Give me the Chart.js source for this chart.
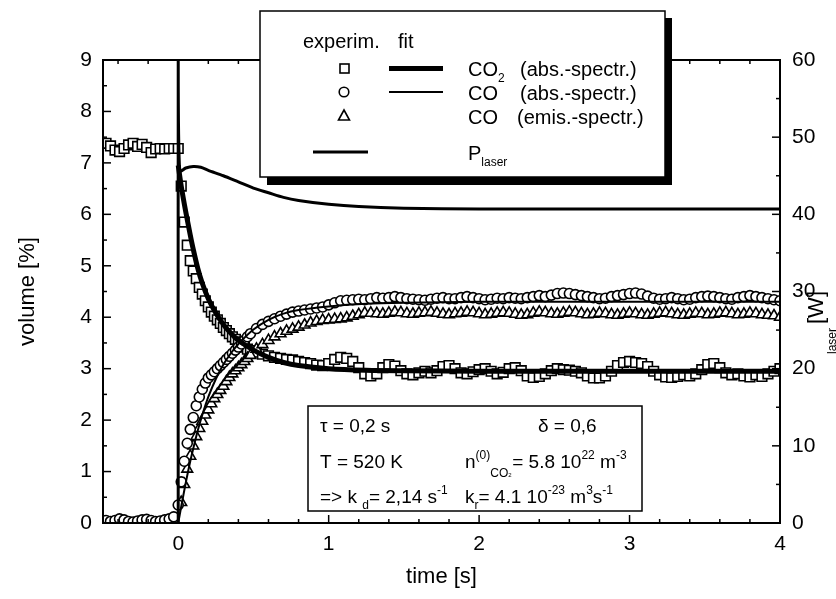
<!DOCTYPE html>
<html>
<head>
<meta charset="utf-8">
<script src="https://cdn.jsdelivr.net/npm/chart.js@4/dist/chart.umd.min.js"></script>
<style>
  html, body { margin: 0; padding: 0; background: #fff; }
</style>
</head>
<body>
<canvas id="volChart" width="836" height="599"></canvas>
<script>
// measurement times [s] shared by the three experimental series
const expTime = [
  -0.48, -0.45, -0.42, -0.39, -0.36, -0.33, -0.30, -0.27, -0.24, -0.21, -0.18, -0.15, -0.12, -0.09, -0.06, -0.03,
  0.00, 0.02, 0.04, 0.06, 0.08, 0.10, 0.12, 0.14, 0.16, 0.18, 0.20, 0.22, 0.24, 0.26, 0.28, 0.30, 0.32, 0.34, 0.36, 0.38, 0.40, 0.42, 0.44, 0.46, 0.48,
  0.52, 0.56, 0.60, 0.64, 0.68, 0.72, 0.76, 0.80, 0.84, 0.88, 0.92, 0.96,
  1.00, 1.04, 1.08, 1.12, 1.16, 1.20, 1.24, 1.28, 1.32, 1.36, 1.40, 1.44, 1.48, 1.52, 1.56, 1.60, 1.64, 1.68, 1.72, 1.76, 1.80, 1.84, 1.88, 1.92, 1.96,
  2.00, 2.04, 2.08, 2.12, 2.16, 2.20, 2.24, 2.28, 2.32, 2.36, 2.40, 2.44, 2.48, 2.52, 2.56, 2.60, 2.64, 2.68, 2.72, 2.76, 2.80, 2.84, 2.88, 2.92, 2.96,
  3.00, 3.04, 3.08, 3.12, 3.16, 3.20, 3.24, 3.28, 3.32, 3.36, 3.40, 3.44, 3.48, 3.52, 3.56, 3.60, 3.64, 3.68, 3.72, 3.76, 3.80, 3.84, 3.88, 3.92, 3.96,
  4.00
];

// CO2, absorption spectroscopy (squares) [%]
const co2Exp = [
  7.38, 7.33, 7.25, 7.22, 7.28, 7.35, 7.38, 7.32, 7.36, 7.30, 7.20, 7.27, 7.28, 7.27, 7.28, 7.28,
  7.28, 6.55, 5.85, 5.40, 5.10, 4.90, 4.75, 4.58, 4.45, 4.32, 4.20, 4.10, 4.02, 3.95, 3.88, 3.80, 3.74, 3.68, 3.62, 3.57, 3.52, 3.47, 3.42, 3.38, 3.35,
  3.32, 3.28, 3.25, 3.22, 3.20, 3.18, 3.17, 3.14, 3.12, 3.10, 3.07, 3.06,
  3.10, 3.18, 3.22, 3.20, 3.14, 3.02, 2.90, 2.86, 2.90, 3.02, 3.08, 3.05, 2.96, 2.90, 2.88, 2.92, 2.95, 2.92, 2.96, 3.04, 3.06, 3.00, 2.92, 2.90, 2.94,
  2.98, 3.00, 2.95, 2.90, 2.93, 3.00, 3.02, 2.96, 2.86, 2.83, 2.85, 2.90, 2.96, 3.00, 2.98, 2.97, 2.95, 2.92, 2.86, 2.82, 2.82, 2.86, 2.95, 3.06, 3.12,
  3.14, 3.12, 3.10, 3.04, 2.95, 2.88, 2.84, 2.83, 2.85, 2.88, 2.86, 2.90, 2.98, 3.08, 3.10, 3.02, 2.92, 2.88, 2.90, 2.86, 2.84, 2.88, 2.85, 2.90, 2.95,
  3.00
];

// CO, absorption spectroscopy (circles) [%]
const coAbsExp = [
  0.05, 0.03, 0.05, 0.08, 0.06, 0.03, 0.02, 0.04, 0.06, 0.07, 0.05, 0.03, 0.04, 0.06, 0.08, 0.12,
  0.35, 0.80, 1.20, 1.55, 1.82, 2.05, 2.28, 2.45, 2.60, 2.72, 2.82, 2.88, 2.94, 3.00, 3.06, 3.12, 3.18, 3.24, 3.30, 3.36, 3.42, 3.48, 3.55, 3.62, 3.68,
  3.78, 3.86, 3.92, 3.97, 4.02, 4.06, 4.10, 4.12, 4.14, 4.16, 4.18, 4.20,
  4.24, 4.28, 4.32, 4.33, 4.34, 4.35, 4.34, 4.36, 4.38, 4.37, 4.38, 4.40, 4.38, 4.36, 4.35, 4.34, 4.33, 4.35, 4.37, 4.38, 4.36, 4.36, 4.38, 4.40, 4.38,
  4.36, 4.34, 4.35, 4.37, 4.36, 4.38, 4.37, 4.36, 4.38, 4.40, 4.42, 4.40, 4.43, 4.46, 4.47, 4.46, 4.44, 4.42, 4.40, 4.38, 4.36, 4.37, 4.40, 4.42, 4.44,
  4.46, 4.47, 4.45, 4.41, 4.37, 4.35, 4.36, 4.38, 4.36, 4.34, 4.35, 4.38, 4.40, 4.41, 4.40, 4.38, 4.36, 4.35, 4.38, 4.40, 4.42, 4.40, 4.38, 4.36, 4.34,
  4.32
];

// CO, emission spectroscopy (triangles) [%]
const coEmisExp = [
  null, null, null, null, null, null, null, null, null, null, null, null, null, null, null, null,
  null, 0.40, 0.75, 1.05, 1.30, 1.50, 1.68, 1.84, 1.98, 2.10, 2.20, 2.32, 2.42, 2.50, 2.58, 2.66, 2.75, 2.83, 2.90, 2.96, 3.02, 3.08, 3.14, 3.20, 3.26,
  3.38, 3.47, 3.55, 3.62, 3.68, 3.73, 3.77, 3.81, 3.85, 3.89, 3.92, 3.94,
  3.95, 3.96, 3.97, 3.99, 4.02, 4.05, 4.08, 4.08, 4.07, 4.06, 4.08, 4.10, 4.09, 4.07, 4.06, 4.08, 4.09, 4.10, 4.08, 4.06, 4.05, 4.07, 4.08, 4.10, 4.09,
  4.07, 4.05, 4.06, 4.08, 4.09, 4.08, 4.06, 4.04, 4.05, 4.08, 4.10, 4.09, 4.07, 4.06, 4.08, 4.10, 4.09, 4.07, 4.05, 4.06, 4.08, 4.07, 4.05, 4.04, 4.06,
  4.08, 4.07, 4.05, 4.04, 4.06, 4.08, 4.09, 4.07, 4.05, 4.04, 4.06, 4.08, 4.07, 4.05, 4.06, 4.08, 4.09, 4.07, 4.05, 4.06, 4.08, 4.07, 4.05, 4.04, 4.03,
  4.00
];

// model fits [%]
const fitTime = [0, 0.02, 0.05, 0.08, 0.10, 0.13, 0.16, 0.20, 0.25, 0.30, 0.35, 0.40, 0.50, 0.60, 0.70, 0.80, 1.00, 1.25, 1.50, 2.00, 2.50, 3.00, 3.50, 4.00];
const co2Fit  = [6.95, 6.55, 6.05, 5.60, 5.32, 4.95, 4.66, 4.36, 4.08, 3.86, 3.69, 3.55, 3.36, 3.22, 3.12, 3.06, 3.00, 2.97, 2.96, 2.95, 2.95, 2.95, 2.95, 2.95];
const coFit   = [0.00, 0.32, 0.78, 1.20, 1.45, 1.80, 2.10, 2.45, 2.80, 3.08, 3.30, 3.48, 3.76, 3.95, 4.07, 4.14, 4.21, 4.26, 4.28, 4.30, 4.30, 4.30, 4.30, 4.30];

// laser power [W] (right axis)
const laserTime  = [0, 0, 0.01, 0.05, 0.10, 0.15, 0.20, 0.30, 0.40, 0.50, 0.60, 0.70, 0.80, 1.00, 1.20, 1.50, 2.00, 3.00, 4.00];
const laserPower = [0, 60, 45.6, 46.0, 46.2, 46.1, 45.7, 45.0, 44.2, 43.4, 42.8, 42.2, 41.8, 41.3, 41.0, 40.8, 40.7, 40.7, 40.7];

const xTicks = [0, 1, 2, 3, 4];
const yTicks = [0, 1, 2, 3, 4, 5, 6, 7, 8, 9];
const y2Ticks = [0, 10, 20, 30, 40, 50, 60];

const FONT = '"Liberation Sans", Arial, Helvetica, sans-serif';

const pts = (xs, ys) => xs.map((x, i) => ({ x: x, y: ys[i] }));

// write text with sub/superscripts, returns end x
function rich(ctx, x, y, parts, size) {
  for (const [t, k] of parts) {
    const small = k !== 'n';
    ctx.font = (small ? Math.round(size * 0.62) : size) + 'px ' + FONT;
    const dy = k === 'sup' ? -size * 0.45 : k === 'sub' ? size * 0.32 : 0;
    ctx.fillText(t, x, y + dy);
    x += ctx.measureText(t).width;
  }
  return x;
}

const frame = {
  id: 'frame',
  afterDatasetsDraw(chart) {
    const { ctx, chartArea: a, scales } = chart;
    ctx.save();
    ctx.strokeStyle = '#000';
    ctx.lineWidth = 2;
    ctx.strokeRect(a.left, a.top, a.right - a.left, a.bottom - a.top);
    ctx.lineWidth = 1.5;
    const seg = (x1, y1, x2, y2) => {
      ctx.beginPath(); ctx.moveTo(x1, y1); ctx.lineTo(x2, y2); ctx.stroke();
    };
    for (let i = -2; i <= 20; i++) {
      const v = i * 0.2;
      const len = i % 5 === 0 ? 8 : 4;
      const px = scales.x.getPixelForValue(v);
      seg(px, a.bottom, px, a.bottom - len);
      seg(px, a.top, px, a.top + len);
    }
    for (let i = 0; i <= 18; i++) {
      const py = scales.y.getPixelForValue(i * 0.5);
      seg(a.left, py, a.left + (i % 2 === 0 ? 8 : 4), py);
    }
    for (let i = 0; i <= 12; i++) {
      const py = scales.y2.getPixelForValue(i * 5);
      seg(a.right, py, a.right - (i % 2 === 0 ? 8 : 4), py);
    }
    ctx.restore();
  },
  afterDraw(chart) {
    const ctx = chart.ctx;
    ctx.save();
    ctx.fillStyle = '#000';
    ctx.strokeStyle = '#000';
    ctx.textBaseline = 'alphabetic';

    // legend box with drop shadow
    const bx = 260, by = 11, bw = 405, bh = 166;
    ctx.fillRect(bx + 7, by + 7, bw, bh + 1);
    ctx.fillStyle = '#fff';
    ctx.fillRect(bx, by, bw, bh);
    ctx.lineWidth = 1.5;
    ctx.strokeRect(bx, by, bw, bh);
    ctx.fillStyle = '#000';
    ctx.font = '20px ' + FONT;
    ctx.fillText('experim.', 303, 48);
    ctx.fillText('fit', 398, 48);

    ctx.lineWidth = 1.6;
    ctx.strokeRect(340, 64, 9, 9);
    ctx.beginPath(); ctx.arc(344, 92, 4.8, 0, Math.PI * 2); ctx.stroke();
    ctx.beginPath(); ctx.moveTo(344, 110); ctx.lineTo(349.5, 120); ctx.lineTo(338.5, 120); ctx.closePath(); ctx.stroke();
    ctx.lineWidth = 5;
    ctx.beginPath(); ctx.moveTo(389, 68.5); ctx.lineTo(443, 68.5); ctx.stroke();
    ctx.lineWidth = 2;
    ctx.beginPath(); ctx.moveTo(389, 92); ctx.lineTo(443, 92); ctx.stroke();
    ctx.lineWidth = 3;
    ctx.beginPath(); ctx.moveTo(313, 152); ctx.lineTo(368, 152); ctx.stroke();

    rich(ctx, 468, 76, [['CO', 'n'], ['2', 'sub']], 20);
    ctx.font = '20px ' + FONT;
    ctx.fillText('(abs.-spectr.)', 520, 76);
    ctx.fillText('CO', 468, 100);
    ctx.fillText('(abs.-spectr.)', 520, 100);
    ctx.fillText('CO', 468, 124);
    ctx.fillText('(emis.-spectr.)', 517, 124);
    rich(ctx, 468, 160, [['P', 'n'], ['laser', 'sub']], 20);

    // parameter box
    ctx.fillStyle = '#fff';
    ctx.fillRect(308, 406, 334, 105);
    ctx.lineWidth = 1.5;
    ctx.strokeRect(308, 406, 334, 105);
    ctx.fillStyle = '#000';
    const s = 19;
    rich(ctx, 320, 432, [['\u03c4 = 0,2 s', 'n']], s);
    rich(ctx, 538, 432, [['\u03b4 = 0,6', 'n']], s);
    rich(ctx, 320, 468, [['T = 520 K', 'n']], s);
    let x = rich(ctx, 465, 468, [['n', 'n'], ['(0)', 'sup']], s);
    x = rich(ctx, x, 471, [['CO', 'sub']], s);
    rich(ctx, x, 474, [['2', 'sub']], 10);
    rich(ctx, x + 4, 468, [['= 5.8 10', 'n'], ['22', 'sup'], [' m', 'n'], ['-3', 'sup']], s);
    rich(ctx, 320, 503, [['=> k ', 'n'], ['d', 'sub'], ['= 2,14 s', 'n'], ['-1', 'sup']], s);
    rich(ctx, 465, 503, [['k', 'n'], ['r', 'sub'], ['= 4.1 10', 'n'], ['-23', 'sup'], [' m', 'n'], ['3', 'sup'], ['s', 'n'], ['-1', 'sup']], s);

    // right axis title
    ctx.translate(823, 354);
    ctx.rotate(-Math.PI / 2);
    ctx.font = '12px ' + FONT;
    ctx.fillText('laser', 0, 13);
    const w = ctx.measureText('laser').width;
    ctx.font = '22px ' + FONT;
    ctx.fillText('[W]', w + 4, 0);
    ctx.restore();
  }
};

const tickFont = { family: FONT, size: 21 };
const titleFont = { family: FONT, size: 22 };

new Chart(document.getElementById('volChart'), {
  type: 'scatter',
  data: {
    datasets: [
      {
        label: 'CO2 fit', data: pts(fitTime, co2Fit), yAxisID: 'y', showLine: true,
        borderColor: '#000', borderWidth: 5, pointRadius: 0, tension: 0.3, order: 0
      },
      {
        label: 'CO fit', data: pts(fitTime, coFit), yAxisID: 'y', showLine: true,
        borderColor: '#000', borderWidth: 2, pointRadius: 0, tension: 0.3, order: 0
      },
      {
        label: 'P laser', data: pts(laserTime, laserPower), yAxisID: 'y2', showLine: true,
        borderColor: '#000', borderWidth: 3, pointRadius: 0, tension: 0.25, order: 0
      },
      {
        label: 'CO2 (abs.-spectr.)', data: pts(expTime, co2Exp), yAxisID: 'y',
        pointStyle: 'rect', pointRadius: 6.8, backgroundColor: '#fff', borderColor: '#000',
        borderWidth: 1.6, order: 3
      },
      {
        label: 'CO (emis.-spectr.)', data: pts(expTime, coEmisExp), yAxisID: 'y',
        pointStyle: 'triangle', pointRadius: 6.2, backgroundColor: '#fff', borderColor: '#000',
        borderWidth: 1.6, order: 2
      },
      {
        label: 'CO (abs.-spectr.)', data: pts(expTime, coAbsExp), yAxisID: 'y',
        pointStyle: 'circle', pointRadius: 5, backgroundColor: '#fff', borderColor: '#000',
        borderWidth: 1.6, order: 1
      }
    ]
  },
  options: {
    responsive: false,
    animation: false,
    layout: { padding: { top: 60, left: 0, right: 0, bottom: 0 } },
    plugins: { legend: { display: false }, tooltip: { enabled: false } },
    scales: {
      x: {
        type: 'linear', min: -0.5, max: 4,
        afterBuildTicks: s => { s.ticks = xTicks.map(v => ({ value: v })); },
        afterFit: s => { s.height = 76; },
        grid: { display: false, drawTicks: false }, border: { display: false },
        ticks: { color: '#000', font: tickFont, padding: 9 },
        title: { display: true, text: 'time [s]', color: '#000', font: titleFont, padding: { top: 0, bottom: 9 } }
      },
      y: {
        type: 'linear', position: 'left', min: 0, max: 9,
        afterBuildTicks: s => { s.ticks = yTicks.map(v => ({ value: v })); },
        afterFit: s => { s.width = 103; },
        grid: { display: false, drawTicks: false }, border: { display: false },
        ticks: { color: '#000', font: tickFont, padding: 11 },
        title: { display: true, text: 'volume [%]', color: '#000', font: titleFont, padding: { top: 15, bottom: 0 } }
      },
      y2: {
        type: 'linear', position: 'right', min: 0, max: 60,
        afterBuildTicks: s => { s.ticks = y2Ticks.map(v => ({ value: v })); },
        afterFit: s => { s.width = 56; },
        grid: { display: false, drawTicks: false }, border: { display: false },
        ticks: { color: '#000', font: tickFont, padding: 12 }
      }
    }
  },
  plugins: [frame]
});
</script>
</body>
</html>
